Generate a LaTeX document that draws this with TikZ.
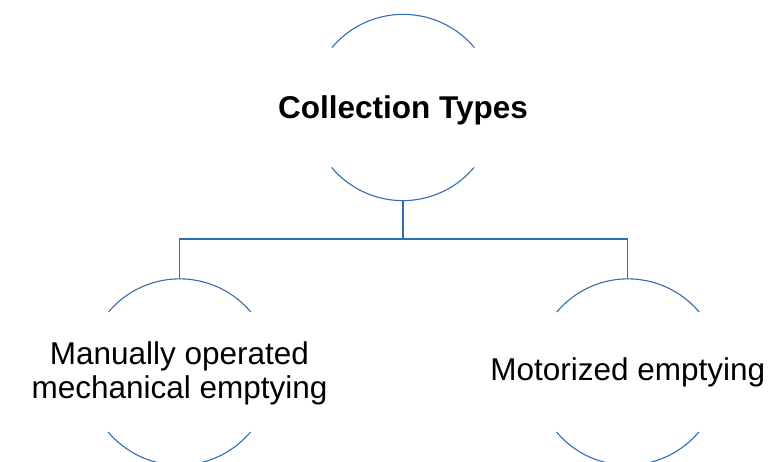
\documentclass[tikz,border=0pt]{standalone}
\usepackage{fontspec}
\setmainfont{Liberation Sans}
\definecolor{lineblue}{RGB}{46,110,180}
\begin{document}
\begin{tikzpicture}[x=1pt,y=-1pt,
  ring/.style={circle,minimum size=186pt,inner sep=0pt},
  label/.style={align=center,font=\fontsize{31.5}{34}\selectfont,text=black,inner sep=0pt},
  conn/.style={draw=lineblue,line width=1.1pt}]
\useasboundingbox (0,0) rectangle (783,461);
\clip (0,0) rectangle (783,461);
\node[ring] (c0) at (403,107.5) {};
\node[ring] (c1) at (179.5,372) {};
\node[ring] (c2) at (627.8,372) {};
\foreach \n in {c0,c1,c2}{
  \draw[conn] (\n.40) arc[start angle=40,end angle=140,radius=93pt];
  \draw[conn] (\n.220) arc[start angle=220,end angle=320,radius=93pt];
}
\node[label,font=\fontsize{31.5}{34}\selectfont\bfseries,anchor=base] (t0) at ([yshift=-11pt]c0.center) {Collection Types};
\node[label] (t1) at ([yshift=-1pt]c1.center) {Manually operated\\mechanical emptying};
\node[label,anchor=base] (t2) at ([yshift=-8pt]c2.center) {Motorized emptying};
\coordinate (j) at (403,239);
\draw[conn] (c0.south) -- (j);
\draw[conn] (j) -| (c1.north);
\draw[conn] (j) -| (c2.north);
\end{tikzpicture}
\end{document}
